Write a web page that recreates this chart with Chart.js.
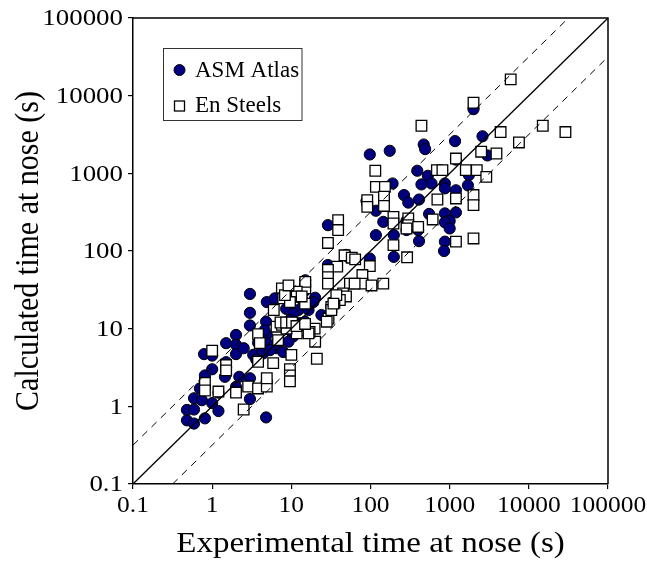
<!DOCTYPE html>
<html>
<head>
<meta charset="utf-8">
<script src="https://cdn.jsdelivr.net/npm/chart.js@4.4.0/dist/chart.umd.min.js"></script>
<style>
html,body{margin:0;padding:0;background:#fff;}
canvas{display:block;}
</style>
</head>
<body>
<canvas id="c" width="647" height="572"></canvas>
<script>
// ---- tick values / labels ----
const tickValues = [0.1, 1, 10, 100, 1000, 10000, 100000];
const tickLabels = ['0.1', '1', '10', '100', '1000', '10000', '100000'];

// ---- series: ASM Atlas (experimental x, calculated y) ----
const asmX = [2000,98,175,470,490,1170,2600,3000,1200,390,530,1700,1750,190,590,440,870,870,1200,1700,
  265,300,410,550,870,1200,1000,870,1000,410,870,850,89,117,145,285,285,400,117,197,
  197,29,98,49,52,29,29,20,19,15,24,
  3.0,4.8,2.0,1.5,2.0,2.0,2.5,0.79,1.0,4.9,4.9,4.4,3.3,6.5,7.9,1.5,1.5,1.5,1.45,1.0,
  0.81,0.81,0.7,0.59,0.74,0.48,0.59,0.48,0.59,0.81,1.0,1.2,1.2,2.0,2.2,3.0,3.0,4.8,4.9,
  3.0,3.0,4.9,6.2,9.6,12.3,8.6,10.5,9.6,9.6,12.8,4.6,3.8,14.9,14.9,16.5,14,11.5,14.9,
  6.1,3.6,4.3,5.4,9.6,10.5,9.2,14.9,11.7];
const asmY = [6700,1750,1950,2350,2050,2600,3000,1700,1500,1080,930,1050,950,740,740,720,740,640,605,700,
  525,420,460,300,305,314,243,234,195,134,132,100,440,330,237,245,186,186,160,160,
  84,215,80,89,84,66,58,25,22,42,15,
  11,12.3,8.3,6.5,6.2,4.7,5.6,4.7,4.5,8.3,6.5,4.8,4.6,5.6,5.0,3.7,3.2,2.6,2.4,3.0,
  2.5,1.7,1.7,1.27,1.2,0.9,0.91,0.66,0.60,0.70,1.1,0.87,1.5,1.78,2.4,2.3,1.24,0.72,2.1,
  28,16,22,24.6,21,17.4,18,15.5,13,10.8,11.8,9.5,6.6,9.4,12.3,17.4,23,28.5,35,
  6.2,4.0,5.3,5.3,9.6,7.9,6.8,31,26];

// ---- series: En Steels ----
const enX = [5900,2000,440,4400,15000,29000,7500,2500,3900,1200,115,690,810,1600,2200,2900,117,152,91,91,
  148,148,700,1200,2000,2000,610,195,195,300,300,400,285,1200,2000,195,290,39,39,29,
  98,47,58,64,38,29,29,29,79,79,103,145,55,63,45,49,41,35,37,15,
  15,11.7,11.7,14.9,29.5,32,32,21,10,9.6,9.6,9.6,20,28,19.7,17,14.1,11.7,16.5,6.8,
  3.8,4.0,1.0,3.8,5.9,1.5,1.5,0.81,0.81,1.2,2.0,2.5,2.85,3.8,4.9,4.9,6.5,7.6,8.7,6.0,
  7.6,7.9,9.6,7.3,8.6,10.2,11.6,14.9,8.3,13.5,9.2,34];
const enY = [16200,8100,4100,3400,4100,3400,2500,1900,1800,1550,1080,1100,1100,1100,1100,900,670,670,450,370,
  500,380,460,475,525,390,255,275,226,262,215,204,195,132,145,119,83,250,186,127,
  64,88,82,78,63,57,46,38,49,38,36,38,38,38,28.5,26,23.4,21.5,27,33,
  40,30,26,21,13.5,19,17.4,4.1,4.6,3.0,2.5,2.1,6.8,12.3,10,9.1,9.6,8.7,8.7,7.1,
  8.5,6.5,5.2,3.75,3.6,3.4,2.9,2.0,1.6,1.55,1.5,0.91,1.8,1.7,1.8,2.3,10.6,11.2,10,17.4,
  33,24.6,22,12,12,12,10.8,11.5,27,26,36,21];

// ---- reference lines: 1:1 and half-decade bands ----
const oneToOneX = [0.1, 100000];
const oneToOneY = [0.1, 100000];
const upperBandX = [0.1, 31623];
const upperBandY = [0.31623, 100000];
const lowerBandX = [0.31623, 100000];
const lowerBandY = [0.1, 31623];

const seriesNames = ['ASM Atlas', 'En Steels'];
const xTitle = 'Experimental time at nose (s)';
const yTitle = 'Calculated time at nose (s)';

const zip = (xs, ys) => xs.map((x, i) => ({x: x, y: ys[i]}));
const FONT = '"Liberation Serif", "Times New Roman", serif';

// Draws frame, legend, tick labels and axis titles (text slightly widened like the original)
const decorPlugin = {
  id: 'decor',
  afterDraw(chart) {
    const {ctx, chartArea: a, scales} = chart;
    ctx.save();
    ctx.strokeStyle = '#000';
    ctx.lineWidth = 1.5;
    ctx.beginPath();
    ctx.moveTo(a.left, a.top);
    ctx.lineTo(a.right, a.top);
    ctx.lineTo(a.right, a.bottom);
    ctx.stroke();

    // tick labels
    ctx.fillStyle = '#000';
    ctx.font = '24px ' + FONT;
    ctx.textAlign = 'center';
    ctx.textBaseline = 'top';
    tickValues.forEach((v, i) => {
      const px = scales.x.getPixelForValue(v);
      ctx.save();
      ctx.translate(px, a.bottom + 10);
      ctx.scale(1.06, 1);
      ctx.fillText(tickLabels[i], 0, 0);
      ctx.restore();
    });
    ctx.textAlign = 'right';
    ctx.textBaseline = 'middle';
    tickValues.forEach((v, i) => {
      const py = scales.y.getPixelForValue(v);
      ctx.save();
      ctx.translate(a.left - 10, py);
      ctx.scale(1.12, 1);
      ctx.fillText(tickLabels[i], 0, 1);
      ctx.restore();
    });

    // axis titles
    ctx.font = '30px ' + FONT;
    ctx.textAlign = 'center';
    ctx.textBaseline = 'middle';
    ctx.save();
    ctx.translate((a.left + a.right) / 2, 544);
    ctx.scale(1.1, 1);
    ctx.fillText(xTitle, 0, 0);
    ctx.restore();
    ctx.save();
    ctx.translate(29, (a.top + a.bottom) / 2);
    ctx.rotate(-Math.PI / 2);
    ctx.scale(1, 1.12);
    ctx.fillText(yTitle, 0, 0);
    ctx.restore();

    // legend box
    const lx = 163.5, ly = 48.5, lw = 138.5, lh = 72;
    ctx.fillStyle = '#fff';
    ctx.fillRect(lx, ly, lw, lh);
    ctx.lineWidth = 1;
    ctx.strokeStyle = '#333';
    ctx.strokeRect(lx, ly, lw, lh);
    ctx.beginPath();
    ctx.arc(179.5, 70, 5.5, 0, Math.PI * 2);
    ctx.fillStyle = '#000080';
    ctx.fill();
    ctx.strokeStyle = '#000';
    ctx.stroke();
    ctx.fillStyle = '#fff';
    ctx.fillRect(174.5, 101, 10, 10);
    ctx.lineWidth = 1.3;
    ctx.strokeRect(174.5, 101, 10, 10);
    ctx.fillStyle = '#000';
    ctx.font = '23px ' + FONT;
    ctx.textBaseline = 'alphabetic';
    ctx.textAlign = 'left';
    ctx.fillText(seriesNames[0], 195, 77);
    ctx.fillText(seriesNames[1], 195, 112);
    ctx.restore();
  }
};

function axisCfg(isX) {
  return {
    type: 'logarithmic',
    min: tickValues[0],
    max: tickValues[tickValues.length - 1],
    afterBuildTicks: s => { s.ticks = tickValues.map(v => ({value: v})); },
    afterFit: s => { if (isX) s.height = 88; else s.width = 133; },
    ticks: {display: false, autoSkip: false},
    grid: {drawOnChartArea: false, drawTicks: true, tickLength: 5, color: '#000', lineWidth: 1.2},
    border: {display: true, color: '#000', width: 1.5},
    title: {display: false}
  };
}

new Chart(document.getElementById('c'), {
  type: 'scatter',
  data: {
    datasets: [
      {label: '1:1', data: zip(oneToOneX, oneToOneY), showLine: true, pointRadius: 0,
       borderColor: '#000', borderWidth: 1.3, fill: false},
      {label: 'upper', data: zip(upperBandX, upperBandY), showLine: true, pointRadius: 0,
       borderColor: '#000', borderWidth: 1, borderDash: [7, 6], fill: false},
      {label: 'lower', data: zip(lowerBandX, lowerBandY), showLine: true, pointRadius: 0,
       borderColor: '#000', borderWidth: 1, borderDash: [7, 6], fill: false},
      {label: seriesNames[1], data: zip(enX, enY), pointStyle: 'rect', pointRadius: 7.5,
       backgroundColor: '#fff', borderColor: '#000', borderWidth: 1.3},
      {label: seriesNames[0], data: zip(asmX, asmY), pointStyle: 'circle', pointRadius: 5.6,
       backgroundColor: '#000080', borderColor: '#000', borderWidth: 1}
    ]
  },
  options: {
    responsive: false,
    animation: false,
    devicePixelRatio: 1,
    layout: {padding: {top: 18, right: 39, left: 0, bottom: 0}},
    plugins: {legend: {display: false}, tooltip: {enabled: false}},
    scales: {
      x: axisCfg(true),
      y: axisCfg(false)
    }
  },
  plugins: [decorPlugin]
});
</script>
</body>
</html>
